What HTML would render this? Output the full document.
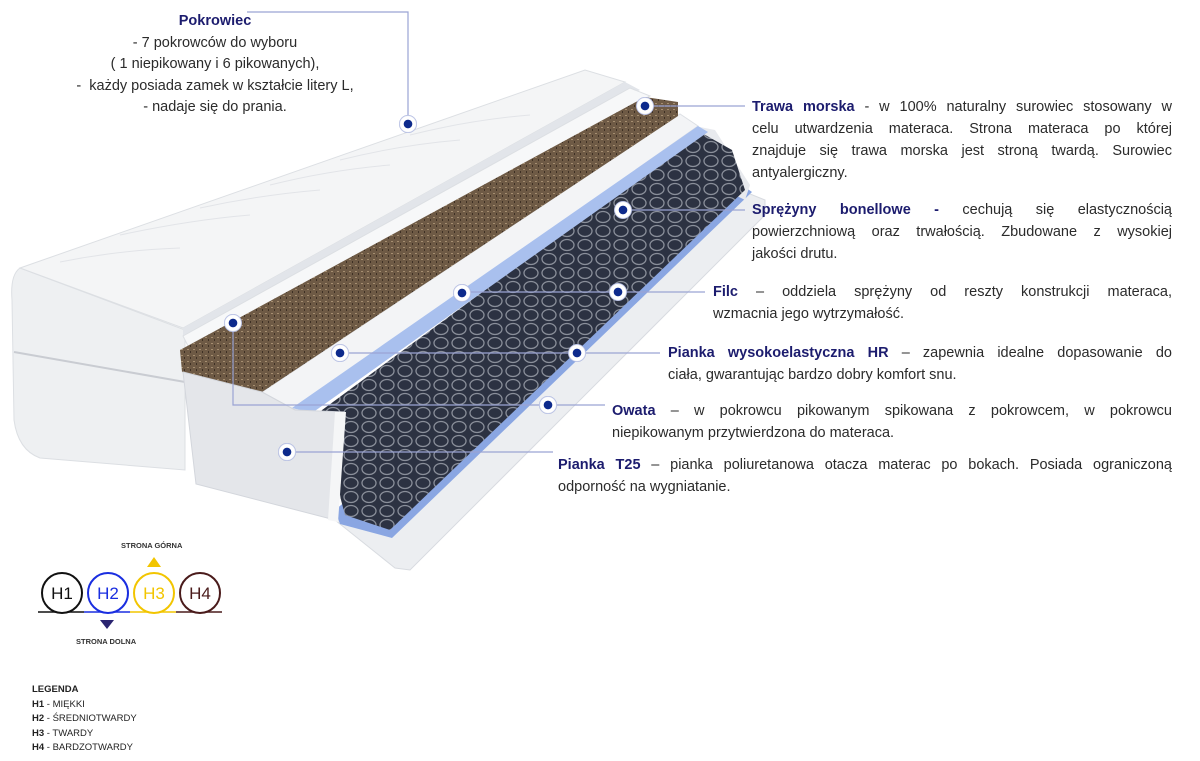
<!DOCTYPE html>
<html><head><meta charset="utf-8">
<style>
html,body{margin:0;padding:0;background:#fff;}
body{width:1200px;height:761px;position:relative;overflow:hidden;font-family:"Liberation Sans",sans-serif;}
.t{position:absolute;font-size:14.5px;line-height:22px;color:#2b2b2b;}
.t div{white-space:nowrap;}
.t .j{text-align:justify;text-align-last:justify;white-space:normal;}
.t b{color:#1c1c6e;}
.pk{position:absolute;left:60px;top:11px;width:310px;text-align:center;font-size:14.5px;line-height:21.5px;color:#2b2b2b;}
.pk b{color:#1c1c6e;}
.lg{position:absolute;left:32px;top:683px;font-size:9.5px;line-height:14.5px;color:#222;}
.small{position:absolute;font-size:7.5px;font-weight:bold;color:#333;}
svg{position:absolute;left:0;top:0;}
</style></head><body>
<svg width="1200" height="761" viewBox="0 0 1200 761">
<defs>
<pattern id="spr" width="18" height="14" patternUnits="userSpaceOnUse">
<rect width="18" height="14" fill="#2c3242"/>
<ellipse cx="9" cy="7" rx="7" ry="5.5" fill="none" stroke="#8a8f9a" stroke-width="1.3"/>
</pattern>
<pattern id="coir" width="6" height="6" patternUnits="userSpaceOnUse">
<rect width="6" height="6" fill="#6e5a45"/>
<rect x="1" y="1" width="2" height="1" fill="#a58e70"/>
<rect x="4" y="3" width="1" height="2" fill="#3e3024"/>
</pattern>
<radialGradient id="mk"><stop offset="0.45" stop-color="#0d2a8c"/><stop offset="0.5" stop-color="#fff"/><stop offset="0.85" stop-color="#fff"/><stop offset="1" stop-color="#9aa6d8"/></radialGradient>
</defs>
<!-- base white bottom -->
<polygon points="335,520 740,190 765,200 765,215 410,570 395,568" fill="#eceef1" stroke="#d8dbe0"/>
<!-- bottom blue felt -->
<polygon points="335,510 735,180 752,192 392,538 340,524" fill="#8aa6e2"/>
<!-- right side wall -->
<polygon points="690,125 715,130 750,185 745,200 735,195" fill="#e8eaee"/>
<!-- springs -->
<polygon points="318,413 700,132 732,150 745,190 390,530 345,515" fill="url(#spr)"/>
<!-- white under coir + blue felt -->
<polygon points="262,392 680,114 698,126 295,410" fill="#f3f4f6" stroke="#dde0e5"/>
<polygon points="292,408 698,126 708,132 312,413" fill="#a9c0ee"/>
<!-- cover -->
<path d="M20,268 Q10,275 12,300 L14,420 Q18,450 40,458 L185,470 L185,330 Z" fill="#eef0f2" stroke="#dcdfe3"/>
<polygon points="20,268 585,70 625,82 183,328" fill="#f4f5f6" stroke="#dcdfe3"/>
<path d="M60,262 Q120,250 180,248 M120,235 Q190,220 250,215 M200,208 Q260,195 320,190 M270,185 Q330,170 390,165 M340,160 Q400,145 460,140 M410,135 Q470,120 530,115" stroke="#e2e4e8" fill="none"/>
<polygon points="183,328 625,82 640,90 183,336" fill="#e2e5ea"/>
<line x1="14" y1="352" x2="185" y2="382" stroke="#c9ccd2" stroke-width="2"/>
<!-- white top strip -->
<polygon points="183,336 630,88 650,96 190,350" fill="#f7f8f9" stroke="#dcdfe3"/>
<!-- coir -->
<polygon points="180,350 645,97 678,102 678,116 262,392 182,372" fill="url(#coir)"/>
<!-- front panel T25 -->
<polygon points="183,372 262,392 295,410 344,412 335,520 196,484" fill="#e4e6ea" stroke="#d3d6dc"/>
<polygon points="335,412 346,412 338,522 328,520" fill="#f5f6f7"/>
<!-- connector lines -->
<g stroke="#9aa4d4" stroke-width="1.2" fill="none">
<polyline points="247,12 408,12 408,124"/>
<line x1="645" y1="106" x2="745" y2="106"/>
<line x1="623" y1="210" x2="745" y2="210"/>
<line x1="462" y1="292" x2="705" y2="292"/>
<line x1="340" y1="353" x2="660" y2="353"/>
<polyline points="233,323 233,405 605,405"/>
<line x1="287" y1="452" x2="553" y2="452"/>
</g>
<g fill="url(#mk)">
<circle cx="408" cy="124" r="9"/><circle cx="645" cy="106" r="9"/><circle cx="623" cy="210" r="9"/>
<circle cx="462" cy="293" r="9"/><circle cx="618" cy="292" r="9"/><circle cx="233" cy="323" r="9"/>
<circle cx="340" cy="353" r="9"/><circle cx="577" cy="353" r="9"/><circle cx="548" cy="405" r="9"/>
<circle cx="287" cy="452" r="9"/>
</g>
<!-- legend circles -->
<line x1="38" y1="612" x2="84" y2="612" stroke="#111" stroke-width="1.5"/>
<line x1="84" y1="612" x2="130" y2="612" stroke="#1a2ee0" stroke-width="1.5"/>
<line x1="130" y1="612" x2="176" y2="612" stroke="#f2c500" stroke-width="1.5"/>
<line x1="176" y1="612" x2="222" y2="612" stroke="#4a1b1b" stroke-width="1.5"/>
<circle cx="62" cy="593" r="20" fill="#fff" stroke="#111" stroke-width="2"/>
<circle cx="108" cy="593" r="20" fill="#fff" stroke="#1a2ee0" stroke-width="2"/>
<circle cx="154" cy="593" r="20" fill="#fff" stroke="#f2c500" stroke-width="2"/>
<circle cx="200" cy="593" r="20" fill="#fff" stroke="#4a1b1b" stroke-width="2"/>
<g font-family="Liberation Sans, sans-serif" font-size="17" text-anchor="middle">
<text x="62" y="599" fill="#111">H1</text><text x="108" y="599" fill="#1a2ee0">H2</text>
<text x="154" y="599" fill="#f2c500">H3</text><text x="200" y="599" fill="#4a1b1b">H4</text>
</g>
<polygon points="147,567 161,567 154,557" fill="#f2c500"/>
<polygon points="100,620 114,620 107,629" fill="#2a2470"/>
</svg>
<div class="small" style="left:121px;top:541px;">STRONA GÓRNA</div>
<div class="small" style="left:76px;top:637px;">STRONA DOLNA</div>
<div class="lg"><b>LEGENDA</b><br><b>H1</b> - MIĘKKI<br><b>H2</b> - ŚREDNIOTWARDY<br><b>H3</b> - TWARDY<br><b>H4</b> - BARDZOTWARDY</div>
<div class="pk"><b>Pokrowiec</b><br>- 7 pokrowców do wyboru<br>( 1 niepikowany i 6 pikowanych),<br>-&nbsp; każdy posiada zamek w kształcie litery L,<br>- nadaje się do prania.</div>
<div class="t" style="left:752px;top:96px;width:420px;">
<div class="j"><b>Trawa morska</b> - w 100% naturalny surowiec stosowany w</div>
<div class="j">celu utwardzenia materaca. Strona materaca po której</div>
<div class="j">znajduje się trawa morska jest stroną twardą. Surowiec</div>
<div>antyalergiczny.</div></div>
<div class="t" style="left:752px;top:199px;width:420px;">
<div class="j"><b>Sprężyny bonellowe -</b> cechują się elastycznością</div>
<div class="j">powierzchniową oraz trwałością. Zbudowane z wysokiej</div>
<div>jakości drutu.</div></div>
<div class="t" style="left:713px;top:281px;width:459px;">
<div class="j"><b>Filc</b> – oddziela sprężyny od reszty konstrukcji materaca,</div>
<div>wzmacnia jego wytrzymałość.</div></div>
<div class="t" style="left:668px;top:342px;width:504px;">
<div class="j"><b>Pianka wysokoelastyczna HR</b> – zapewnia idealne dopasowanie do</div>
<div>ciała, gwarantując bardzo dobry komfort snu.</div></div>
<div class="t" style="left:612px;top:400px;width:560px;">
<div class="j"><b>Owata</b> – w pokrowcu pikowanym spikowana z pokrowcem, w pokrowcu</div>
<div>niepikowanym przytwierdzona do materaca.</div></div>
<div class="t" style="left:558px;top:454px;width:614px;">
<div class="j"><b>Pianka T25</b> – pianka poliuretanowa otacza materac po bokach. Posiada ograniczoną</div>
<div>odporność na wygniatanie.</div></div>
</body></html>
